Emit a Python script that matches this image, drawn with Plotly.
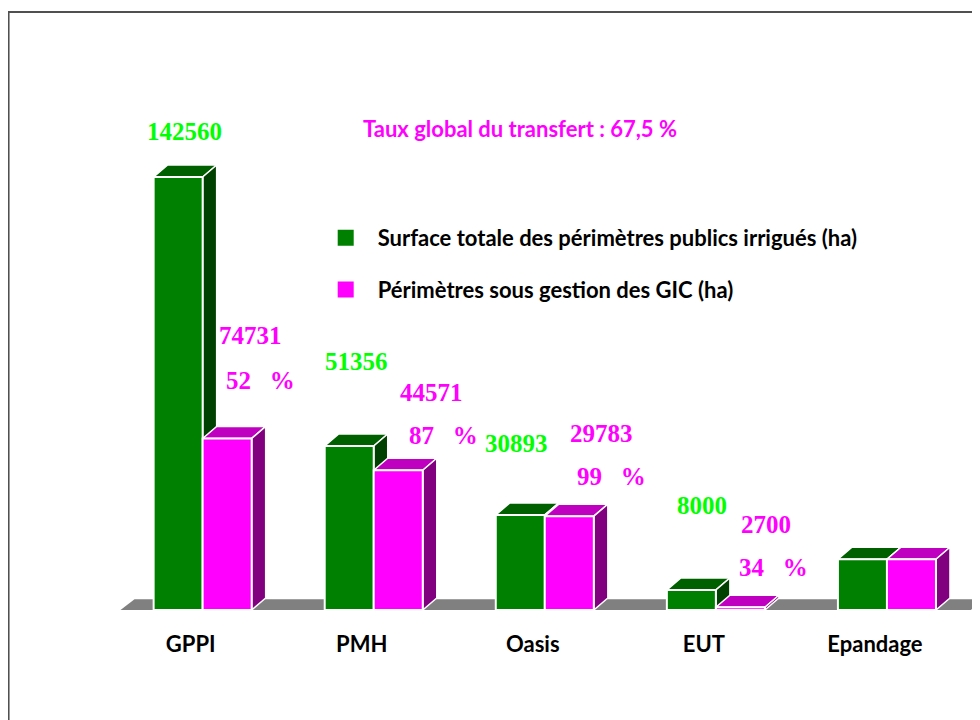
import plotly.graph_objects as go

# ---------------- data ----------------
categories = ["GPPI", "PMH", "Oasis", "EUT", "Epandage"]
# bar heights as drawn in the picture (ha)
surface_totale = [142560, 54000, 31300, 6600, 16700]
surface_gic = [56500, 46000, 30900, 900, 16700]
# printed value labels
label_totale = ["142560", "51356", "30893", "8000", None]
label_gic = ["74731", "44571", "29783", "2700", None]
label_pct = ["52", "87", "99", "34", None]
series_names = ["Surface totale des périmètres publics irrigués (ha)",
                "Périmètres sous gestion des GIC (ha)"]
title_text = "Taux global du transfert : 67,5 %"

# ---------------- layout constants (page pixels) ----------------
W, H = 980, 720
OFFSET = 8  # page body margin
PX_PER_CAT = 171.0
FIRST_CAT_PX = 191.0
X_MIN = -0.6
PLOT_TOP, PLOT_BOTTOM = 100, 610
PX_PER_UNIT = 0.003037
L_M = FIRST_CAT_PX - OFFSET + X_MIN * PX_PER_CAT
R_M = 0
PW = W - L_M - R_M
PH = PLOT_BOTTOM - PLOT_TOP
X_MAX = X_MIN + PW / PX_PER_CAT
Y_MAX = PH / PX_PER_UNIT

DEPTH_X = 14 / PX_PER_CAT
DEPTH_Y = 12 / PX_PER_UNIT
BAR_W = 49 / PX_PER_CAT
SHIFT = 12 / PX_PER_CAT

GREEN, GREEN_TOP, GREEN_SIDE = "#008000", "#006000", "#004000"
MAG, MAG_TOP, MAG_SIDE = "#FF00FF", "#C000C0", "#800080"
LIME = "#00FF00"


def paper(px, py):
    return (px - OFFSET - L_M) / PW, (PLOT_BOTTOM - py) / PH


xs = list(range(len(categories)))

fig = go.Figure()
fig.add_trace(go.Bar(x=xs, y=surface_totale, name=series_names[0],
                     offset=SHIFT - BAR_W, width=BAR_W, showlegend=False,
                     marker=dict(color=GREEN, line=dict(color="white", width=2))))
fig.add_trace(go.Bar(x=xs, y=surface_gic, name=series_names[1],
                     offset=SHIFT, width=BAR_W, showlegend=False,
                     marker=dict(color=MAG, line=dict(color="white", width=2))))
# legend entries
for name, col, grp in [(series_names[0], GREEN, "a"), (series_names[1], MAG, "b")]:
    fig.add_trace(go.Scatter(x=[None], y=[None], mode="markers", name=name,
                             legendgroup=grp,
                             marker=dict(symbol="square", size=16, color=col)))

shapes = []
# floor
fx0, fx1 = -0.41, 4.56
shapes.append(dict(type="path", xref="x", yref="y", layer="below",
                   path=f"M{fx0},0 L{fx1},0 L{fx1+DEPTH_X},{DEPTH_Y*0.9} L{fx0+DEPTH_X},{DEPTH_Y*0.9} Z",
                   fillcolor="#808080", line=dict(width=0)))


def faces(xl, xr, v, top, side):
    out = []
    out.append(dict(type="path", xref="x", yref="y", layer="below",
                    path=f"M{xl},{v} L{xr},{v} L{xr+DEPTH_X},{v+DEPTH_Y} L{xl+DEPTH_X},{v+DEPTH_Y} Z",
                    fillcolor=top, line=dict(color="white", width=1.5)))
    out.append(dict(type="path", xref="x", yref="y", layer="below",
                    path=f"M{xr},0 L{xr},{v} L{xr+DEPTH_X},{v+DEPTH_Y} L{xr+DEPTH_X},{DEPTH_Y} Z",
                    fillcolor=side, line=dict(color="white", width=1.5)))
    return out


for i in xs:
    gl = i + SHIFT - BAR_W
    shapes += faces(gl, gl + BAR_W, surface_totale[i], GREEN_TOP, GREEN_SIDE)
    ml = i + SHIFT
    shapes += faces(ml, ml + BAR_W, surface_gic[i], MAG_TOP, MAG_SIDE)

# outer frame
fx_a, fy_a = paper(OFFSET + 1, 12)
fx_b, fy_b = paper(1010, 750)
shapes.append(dict(type="rect", xref="paper", yref="paper", layer="above",
                   x0=fx_a, y0=fy_b, x1=fx_b, y1=fy_a,
                   line=dict(color="#505050", width=2), fillcolor="rgba(0,0,0,0)"))

NUM_FONT = dict(family="Liberation Serif", size=25, weight="bold")
SANS = "Lato"

annotations = []


def add_text(text, px, py, color, font):
    x, y = paper(px, py)
    annotations.append(dict(text=text, x=x, y=y, xref="paper", yref="paper",
                            showarrow=False, xanchor="center", yanchor="middle",
                            font=dict(color=color, **font)))


tot_pos = [(185, 131), (357, 361), (517, 443), (702, 505)]
gic_pos = [(251, 335), (432, 392), (602, 433), (766, 524)]
pct_pos = [(261, 380), (444, 435), (612, 476), (774, 567)]
for i in range(4):
    add_text(label_totale[i], *tot_pos[i], LIME, NUM_FONT)
    add_text(label_gic[i], *gic_pos[i], MAG, NUM_FONT)
    add_text(label_pct[i] + "\u00a0\u00a0\u00a0%", *pct_pos[i], MAG, NUM_FONT)

add_text(title_text, 520, 128, MAG, dict(family=SANS, size=22, weight="bold"))

lx, ly = paper(314, 217)
fig.update_layout(
    width=W, height=H,
    margin=dict(l=L_M, r=R_M, t=PLOT_TOP - OFFSET, b=H - (PLOT_BOTTOM - OFFSET),
                pad=0, autoexpand=False),
    paper_bgcolor="white", plot_bgcolor="white",
    barmode="overlay",
    showlegend=True,
    legend=dict(x=lx, y=ly, xanchor="left", yanchor="top", bgcolor="rgba(0,0,0,0)",
                font=dict(family=SANS, size=22, color="black", weight="bold"),
                traceorder="grouped", tracegroupgap=20, itemwidth=54),
    xaxis=dict(range=[X_MIN, X_MAX], tickmode="array", tickvals=xs, ticktext=categories,
               showgrid=False, zeroline=False, showline=False, ticks="",
               ticklabelstandoff=19, automargin=False,
               tickfont=dict(family=SANS, size=22, color="black", weight="bold")),
    yaxis=dict(range=[0, Y_MAX], visible=False, showgrid=False, zeroline=False),
    shapes=shapes, annotations=annotations,
)

fig.write_html("out.html")
